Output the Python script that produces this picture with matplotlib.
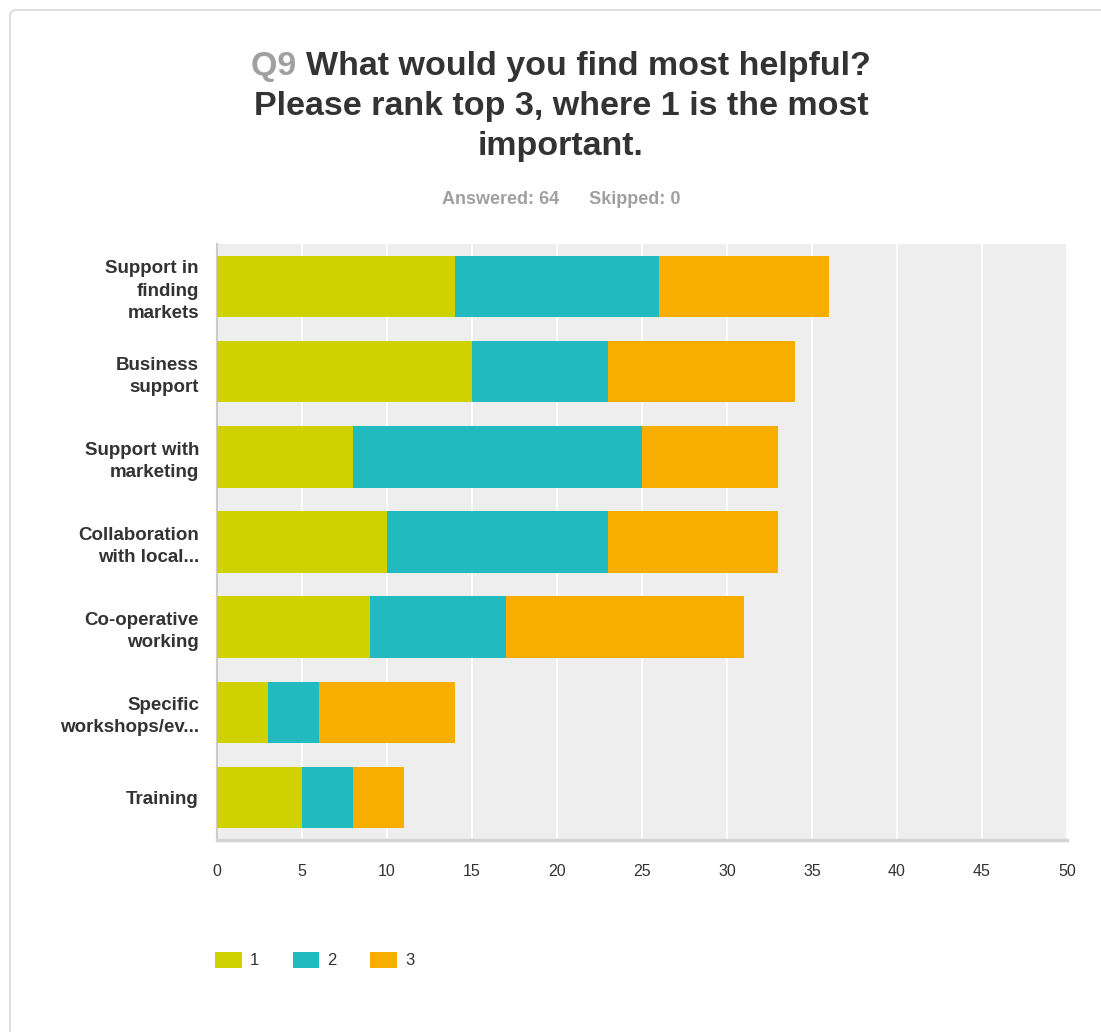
import matplotlib.pyplot as plt
from matplotlib.patches import FancyBboxPatch
import numpy as np

categories = ["Support in\nfinding\nmarkets", "Business\nsupport", "Support with\nmarketing",
              "Collaboration\nwith local...", "Co-operative\nworking",
              "Specific\nworkshops/ev...", "Training"]
rank1 = [14, 15, 8, 10, 9, 3, 5]
rank2 = [12, 8, 17, 13, 8, 3, 3]
rank3 = [10, 11, 8, 10, 14, 8, 3]
series_names = ["1", "2", "3"]
colors = ["#d0d200", "#21babf", "#f8ae00"]
xticks = np.arange(0, 51, 5)

plt.rcParams['font.family'] = ['Liberation Sans', 'DejaVu Sans']

W, H = 1101, 1032
fig = plt.figure(figsize=(W / 100, H / 100), dpi=100)
fig.patch.set_facecolor("white")

# card outline behind everything
card = FancyBboxPatch((10 / W, -0.05), 1.2, 1.0 - 10 / H + 0.05,
                      boxstyle="round,pad=0,rounding_size=0.006",
                      transform=fig.transFigure, facecolor="white",
                      edgecolor="#d8d8d8", linewidth=1.2, zorder=-10)
fig.patches.append(card)

ax = fig.add_axes([217 / W, 1 - 840 / H, 850 / W, 596 / H])
ax.set_facecolor("#eeeeee")

y = np.arange(len(categories))
left = np.zeros(len(categories))
for vals, name, c in zip([rank1, rank2, rank3], series_names, colors):
    ax.barh(y, vals, left=left, height=0.72, color=c, label=name, zorder=3)
    left += np.array(vals)

ax.set_ylim(len(categories) - 0.5, -0.5)
ax.set_xlim(0, 50)
ax.set_xticks(xticks)
ax.set_xticklabels([str(t) for t in xticks], fontsize=11.5, color="#333333")
ax.set_yticks(y)
ax.set_yticklabels(categories, fontsize=13.5, fontweight="bold", color="#333333",
                   linespacing=1.4)
ax.tick_params(axis="both", length=0)
ax.tick_params(axis="x", pad=17)
ax.tick_params(axis="y", pad=13)
ax.grid(axis="x", color="white", linewidth=1.3, zorder=1)
ax.set_axisbelow(True)
for s in ["top", "right"]:
    ax.spines[s].set_visible(False)
ax.spines["left"].set_color("#cccccc")
ax.spines["left"].set_linewidth(1.5)
ax.spines["bottom"].set_color("#d4d4d4")
ax.spines["bottom"].set_linewidth(2.5)

# title block: first line has a grey "Q9" prefix, whole line centred
tsize = 24.5
cx = 561 / W
r = fig.canvas.get_renderer()
q = fig.text(0, 0, "Q9 ", fontsize=tsize, fontweight="bold", color="#a0a0a0")
m = fig.text(0, 0, "What would you find most helpful?", fontsize=tsize,
             fontweight="bold", color="#333333")
wq = q.get_window_extent(r).width / W
wm = m.get_window_extent(r).width / W
x0 = cx - (wq + wm) / 2
q.set_position((x0, 1 - 67 / H))
q.set_va("center")
m.set_position((x0 + wq, 1 - 67 / H))
m.set_va("center")
fig.text(cx, 1 - 106 / H, "Please rank top 3, where 1 is the most",
         ha="center", va="center", fontsize=tsize, fontweight="bold", color="#333333")
fig.text(cx, 1 - 146 / H, "important.",
         ha="center", va="center", fontsize=tsize, fontweight="bold", color="#333333")
fig.text(cx, 1 - 199 / H, "Answered: 64      Skipped: 0",
         ha="center", va="center", fontsize=13, fontweight="bold", color="#a0a0a0")

handles, labels = ax.get_legend_handles_labels()
fig.legend(handles, labels, loc="center left", bbox_to_anchor=(200 / W, 1 - 960 / H),
           ncol=3, frameon=False, fontsize=12, handlelength=1.6, handleheight=1.1,
           columnspacing=2.0, handletextpad=0.5, labelcolor="#333333")

fig.savefig("out.png", dpi=100)
